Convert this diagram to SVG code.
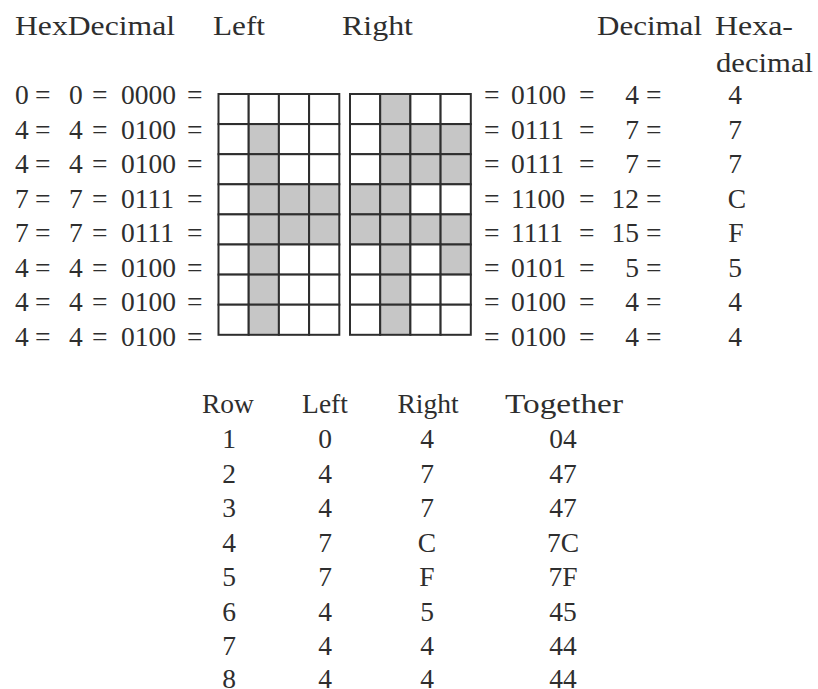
<svg xmlns="http://www.w3.org/2000/svg" width="818" height="689" viewBox="0 0 818 689">
<style>
text{font-family:"Liberation Serif","Times New Roman",serif;font-size:27.5px;fill:#2e2e2e}
.m{text-anchor:middle}
.e{text-anchor:end}
.c{fill:#fff;stroke:#2e2e2e;stroke-width:2}
.s{fill:#c6c6c6;stroke:#2e2e2e;stroke-width:2}
</style>
<rect width="818" height="689" fill="#fff"/>
<g id="headers">
<text x="15" y="35" textLength="160" lengthAdjust="spacingAndGlyphs">HexDecimal</text>
<text x="213" y="35" textLength="52" lengthAdjust="spacingAndGlyphs">Left</text>
<text x="342" y="35" textLength="71" lengthAdjust="spacingAndGlyphs">Right</text>
<text x="597" y="35" textLength="105" lengthAdjust="spacingAndGlyphs">Decimal</text>
<text x="715" y="35" textLength="78" lengthAdjust="spacingAndGlyphs">Hexa-</text>
<text x="716" y="71.5" textLength="97" lengthAdjust="spacingAndGlyphs">decimal</text>
</g>
<g id="left-values">
<text y="104"><tspan x="15">0</tspan><tspan x="35">=</tspan><tspan x="69">0</tspan><tspan x="92">=</tspan><tspan x="121">0000</tspan><tspan x="187">=</tspan></text>
<text y="138.5"><tspan x="15">4</tspan><tspan x="35">=</tspan><tspan x="69">4</tspan><tspan x="92">=</tspan><tspan x="121">0100</tspan><tspan x="187">=</tspan></text>
<text y="173"><tspan x="15">4</tspan><tspan x="35">=</tspan><tspan x="69">4</tspan><tspan x="92">=</tspan><tspan x="121">0100</tspan><tspan x="187">=</tspan></text>
<text y="207.5"><tspan x="15">7</tspan><tspan x="35">=</tspan><tspan x="69">7</tspan><tspan x="92">=</tspan><tspan x="121">0111</tspan><tspan x="187">=</tspan></text>
<text y="242"><tspan x="15">7</tspan><tspan x="35">=</tspan><tspan x="69">7</tspan><tspan x="92">=</tspan><tspan x="121">0111</tspan><tspan x="187">=</tspan></text>
<text y="276.5"><tspan x="15">4</tspan><tspan x="35">=</tspan><tspan x="69">4</tspan><tspan x="92">=</tspan><tspan x="121">0100</tspan><tspan x="187">=</tspan></text>
<text y="311"><tspan x="15">4</tspan><tspan x="35">=</tspan><tspan x="69">4</tspan><tspan x="92">=</tspan><tspan x="121">0100</tspan><tspan x="187">=</tspan></text>
<text y="345.5"><tspan x="15">4</tspan><tspan x="35">=</tspan><tspan x="69">4</tspan><tspan x="92">=</tspan><tspan x="121">0100</tspan><tspan x="187">=</tspan></text>
</g>
<g id="left-grid">
<rect class="c" x="218.5" y="94" width="30.2" height="30.1"/><rect class="c" x="248.7" y="94" width="30.2" height="30.1"/><rect class="c" x="278.9" y="94" width="30.2" height="30.1"/><rect class="c" x="309.1" y="94" width="30.2" height="30.1"/>
<rect class="c" x="218.5" y="124.1" width="30.2" height="30.1"/><rect class="s" x="248.7" y="124.1" width="30.2" height="30.1"/><rect class="c" x="278.9" y="124.1" width="30.2" height="30.1"/><rect class="c" x="309.1" y="124.1" width="30.2" height="30.1"/>
<rect class="c" x="218.5" y="154.2" width="30.2" height="30.1"/><rect class="s" x="248.7" y="154.2" width="30.2" height="30.1"/><rect class="c" x="278.9" y="154.2" width="30.2" height="30.1"/><rect class="c" x="309.1" y="154.2" width="30.2" height="30.1"/>
<rect class="c" x="218.5" y="184.3" width="30.2" height="30.1"/><rect class="s" x="248.7" y="184.3" width="30.2" height="30.1"/><rect class="s" x="278.9" y="184.3" width="30.2" height="30.1"/><rect class="s" x="309.1" y="184.3" width="30.2" height="30.1"/>
<rect class="c" x="218.5" y="214.4" width="30.2" height="30.1"/><rect class="s" x="248.7" y="214.4" width="30.2" height="30.1"/><rect class="s" x="278.9" y="214.4" width="30.2" height="30.1"/><rect class="s" x="309.1" y="214.4" width="30.2" height="30.1"/>
<rect class="c" x="218.5" y="244.5" width="30.2" height="30.1"/><rect class="s" x="248.7" y="244.5" width="30.2" height="30.1"/><rect class="c" x="278.9" y="244.5" width="30.2" height="30.1"/><rect class="c" x="309.1" y="244.5" width="30.2" height="30.1"/>
<rect class="c" x="218.5" y="274.6" width="30.2" height="30.1"/><rect class="s" x="248.7" y="274.6" width="30.2" height="30.1"/><rect class="c" x="278.9" y="274.6" width="30.2" height="30.1"/><rect class="c" x="309.1" y="274.6" width="30.2" height="30.1"/>
<rect class="c" x="218.5" y="304.7" width="30.2" height="30.1"/><rect class="s" x="248.7" y="304.7" width="30.2" height="30.1"/><rect class="c" x="278.9" y="304.7" width="30.2" height="30.1"/><rect class="c" x="309.1" y="304.7" width="30.2" height="30.1"/>
</g>
<g id="right-grid">
<rect class="c" x="350" y="94" width="30.2" height="30.1"/><rect class="s" x="380.2" y="94" width="30.2" height="30.1"/><rect class="c" x="410.4" y="94" width="30.2" height="30.1"/><rect class="c" x="440.6" y="94" width="30.2" height="30.1"/>
<rect class="c" x="350" y="124.1" width="30.2" height="30.1"/><rect class="s" x="380.2" y="124.1" width="30.2" height="30.1"/><rect class="s" x="410.4" y="124.1" width="30.2" height="30.1"/><rect class="s" x="440.6" y="124.1" width="30.2" height="30.1"/>
<rect class="c" x="350" y="154.2" width="30.2" height="30.1"/><rect class="s" x="380.2" y="154.2" width="30.2" height="30.1"/><rect class="s" x="410.4" y="154.2" width="30.2" height="30.1"/><rect class="s" x="440.6" y="154.2" width="30.2" height="30.1"/>
<rect class="s" x="350" y="184.3" width="30.2" height="30.1"/><rect class="s" x="380.2" y="184.3" width="30.2" height="30.1"/><rect class="c" x="410.4" y="184.3" width="30.2" height="30.1"/><rect class="c" x="440.6" y="184.3" width="30.2" height="30.1"/>
<rect class="s" x="350" y="214.4" width="30.2" height="30.1"/><rect class="s" x="380.2" y="214.4" width="30.2" height="30.1"/><rect class="s" x="410.4" y="214.4" width="30.2" height="30.1"/><rect class="s" x="440.6" y="214.4" width="30.2" height="30.1"/>
<rect class="c" x="350" y="244.5" width="30.2" height="30.1"/><rect class="s" x="380.2" y="244.5" width="30.2" height="30.1"/><rect class="c" x="410.4" y="244.5" width="30.2" height="30.1"/><rect class="s" x="440.6" y="244.5" width="30.2" height="30.1"/>
<rect class="c" x="350" y="274.6" width="30.2" height="30.1"/><rect class="s" x="380.2" y="274.6" width="30.2" height="30.1"/><rect class="c" x="410.4" y="274.6" width="30.2" height="30.1"/><rect class="c" x="440.6" y="274.6" width="30.2" height="30.1"/>
<rect class="c" x="350" y="304.7" width="30.2" height="30.1"/><rect class="s" x="380.2" y="304.7" width="30.2" height="30.1"/><rect class="c" x="410.4" y="304.7" width="30.2" height="30.1"/><rect class="c" x="440.6" y="304.7" width="30.2" height="30.1"/>
</g>
<g id="right-values">
<text y="104"><tspan x="484">=</tspan><tspan x="511">0100</tspan><tspan x="579">=</tspan></text><text class="e" x="639" y="104">4</text><text x="646" y="104">=</text><text class="m" x="735" y="104">4</text>
<text y="138.5"><tspan x="484">=</tspan><tspan x="511">0111</tspan><tspan x="579">=</tspan></text><text class="e" x="639" y="138.5">7</text><text x="646" y="138.5">=</text><text class="m" x="735" y="138.5">7</text>
<text y="173"><tspan x="484">=</tspan><tspan x="511">0111</tspan><tspan x="579">=</tspan></text><text class="e" x="639" y="173">7</text><text x="646" y="173">=</text><text class="m" x="735" y="173">7</text>
<text y="207.5"><tspan x="484">=</tspan><tspan x="511">1100</tspan><tspan x="579">=</tspan></text><text class="e" x="639" y="207.5">12</text><text x="646" y="207.5">=</text><text class="m" x="737" y="207.5">C</text>
<text y="242"><tspan x="484">=</tspan><tspan x="511">1111</tspan><tspan x="579">=</tspan></text><text class="e" x="639" y="242">15</text><text x="646" y="242">=</text><text class="m" x="736" y="242">F</text>
<text y="276.5"><tspan x="484">=</tspan><tspan x="511">0101</tspan><tspan x="579">=</tspan></text><text class="e" x="639" y="276.5">5</text><text x="646" y="276.5">=</text><text class="m" x="735" y="276.5">5</text>
<text y="311"><tspan x="484">=</tspan><tspan x="511">0100</tspan><tspan x="579">=</tspan></text><text class="e" x="639" y="311">4</text><text x="646" y="311">=</text><text class="m" x="735" y="311">4</text>
<text y="345.5"><tspan x="484">=</tspan><tspan x="511">0100</tspan><tspan x="579">=</tspan></text><text class="e" x="639" y="345.5">4</text><text x="646" y="345.5">=</text><text class="m" x="735" y="345.5">4</text>
</g>
<g id="table">
<text class="m" x="228" y="413">Row</text><text class="m" x="325" y="413">Left</text><text class="m" x="428" y="413">Right</text><text class="m" x="564" y="413" textLength="118" lengthAdjust="spacingAndGlyphs">Together</text>
<text class="m" x="229" y="448">1</text><text class="m" x="325" y="448">0</text><text class="m" x="427" y="448">4</text><text class="m" x="563" y="448">04</text>
<text class="m" x="229" y="482.5">2</text><text class="m" x="325" y="482.5">4</text><text class="m" x="427" y="482.5">7</text><text class="m" x="563" y="482.5">47</text>
<text class="m" x="229" y="517">3</text><text class="m" x="325" y="517">4</text><text class="m" x="427" y="517">7</text><text class="m" x="563" y="517">47</text>
<text class="m" x="229" y="551.5">4</text><text class="m" x="325" y="551.5">7</text><text class="m" x="427" y="551.5">C</text><text class="m" x="563" y="551.5">7C</text>
<text class="m" x="229" y="586">5</text><text class="m" x="325" y="586">7</text><text class="m" x="427" y="586">F</text><text class="m" x="563" y="586">7F</text>
<text class="m" x="229" y="620.5">6</text><text class="m" x="325" y="620.5">4</text><text class="m" x="427" y="620.5">5</text><text class="m" x="563" y="620.5">45</text>
<text class="m" x="229" y="655">7</text><text class="m" x="325" y="655">4</text><text class="m" x="427" y="655">4</text><text class="m" x="563" y="655">44</text>
<text class="m" x="229" y="688">8</text><text class="m" x="325" y="688">4</text><text class="m" x="427" y="688">4</text><text class="m" x="563" y="688">44</text>
</g>
</svg>
